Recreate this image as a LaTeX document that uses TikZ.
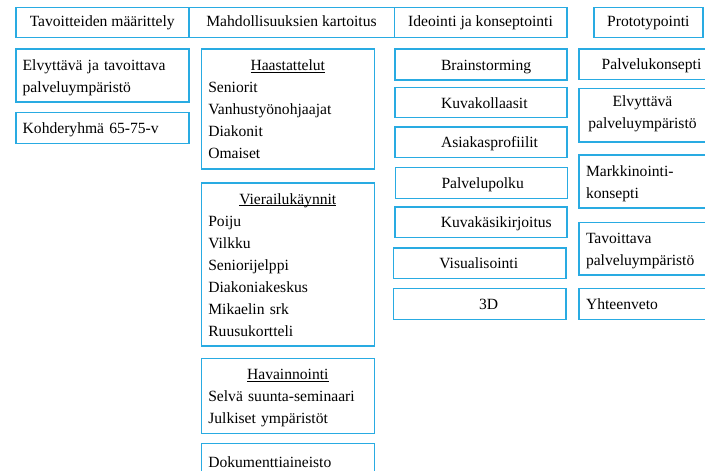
\documentclass[tikz,border=0pt]{standalone}
\usepackage{fontspec}
\setmainfont{Liberation Serif}

\tikzset{every picture/.style={line width=1.6pt}}
\newcommand{\topstrut}{\rule{0pt}{18pt}}
\newcommand{\undertext}[1]{\underline{\smash{#1}}}
\tikzset{
  box/.style={draw={rgb, 255:red, 41; green, 171; blue, 226 }, rectangle, inner xsep=7pt, inner ysep=0pt,
    font=\fontsize{15.6}{22}\selectfont, execute at end node=\strut},
  headbox/.style={box, align=center, execute at begin node=\strut},
  centerbox/.style={box, align=center, execute at begin node=\topstrut},
  listbox/.style={box, align=left, execute at begin node=\topstrut},
  ideabox/.style={listbox, inner xsep=0pt, execute at begin node={\hspace*{#1}}},
  ideabox/.default=46pt
}

\begin{document}
\begin{tikzpicture}[x=1pt,y=1pt,yscale=-1]
  \useasboundingbox (0,0) rectangle (705,471); %same size as the reference

  % phases
  \node [headbox, minimum width=173pt, minimum height=30.2pt] (goals) at (102.2,22.4) {Tavoitteiden määrittely};
  \node [headbox, minimum width=205.6pt, minimum height=30.2pt] (options) at (291.5,22.4) {Mahdollisuuksien kartoitus};
  \node [headbox, minimum width=172.4pt, minimum height=30.2pt] (ideation) at (480.5,22.4) {Ideointi ja konseptointi};
  \node [headbox, minimum width=108.7pt, minimum height=30.2pt] (proto) at (648.35,22.4) {Prototypointi};

  % goals
  \node [listbox, text width=159pt, minimum width=173pt, minimum height=53pt] (goalenv) at (102.2,75.5) {Elvyttävä ja tavoittava\\palveluympäristö};
  \node [listbox, text width=159pt, minimum width=173pt, minimum height=31pt] (goalgroup) at (102.2,127.8) {Kohderyhmä 65-75-v};

  % options
  \node [listbox, text width=159pt, minimum width=173pt, minimum height=119.7pt] (interviews) at (287.8,108.85)
    {\makebox[\hsize]{\undertext{Haastattelut}}\\Seniorit\\Vanhustyönohjaajat\\Diakonit\\Omaiset};
  \node [listbox, text width=159pt, minimum width=173pt, minimum height=163.3pt] (visits) at (287.8,264.35)
    {\makebox[\hsize]{\undertext{Vierailukäynnit}}\\Poiju\\Vilkku\\Seniorijelppi\\Diakoniakeskus\\Mikaelin srk\\Ruusukortteli};
  \node [listbox, text width=159pt, minimum width=173pt, minimum height=75pt] (observation) at (287.8,395.8)
    {\makebox[\hsize]{\undertext{Havainnointi}}\\Selvä suunta-seminaari\\Julkiset ympäristöt};
  \node [listbox, text width=159pt, minimum width=173pt, minimum height=36pt] (documents) at (287.8,461.3) {Dokumenttiaineisto};

  % ideation
  \node [ideabox, text width=172pt, minimum width=172pt, minimum height=31pt] (brainstorm) at (481,64.5) {Brainstorming};
  \node [ideabox, text width=172pt, minimum width=172pt, minimum height=30pt] (collage) at (481,102.3) {Kuvakollaasit};
  \node [ideabox, text width=172pt, minimum width=172pt, minimum height=30.3pt] (profiles) at (481,142.2) {Asiakasprofiilit};
  \node [ideabox, text width=172pt, minimum width=172pt, minimum height=31pt] (path) at (481.5,182.8) {Palvelupolku};
  \node [ideabox, text width=172pt, minimum width=172pt, minimum height=30.6pt] (storyboard) at (480.8,222) {Kuvakäsikirjoitus};
  \node [ideabox, text width=172.7pt, minimum width=172.7pt, minimum height=30.6pt] (visual) at (479.7,263) {Visualisointi};
  \node [ideabox=85.7pt, text width=172.7pt, minimum width=172.7pt, minimum height=31pt] (model) at (479.7,303.8) {3D};

  % prototyping
  \node [ideabox=22.7pt, text width=127pt, minimum width=127pt, minimum height=30.3pt] (concept) at (642.5,64.15) {Palvelukonsepti};
  \node [centerbox, minimum width=127pt, minimum height=53.4pt] (protoenv) at (642.5,115) {Elvyttävä\\palveluympäristö};
  \node [listbox, text width=113pt, minimum width=127pt, minimum height=52.7pt] (marketing) at (642.5,181.35) {Markkinointi-\\konsepti};
  \node [listbox, text width=113pt, minimum width=127pt, minimum height=52.7pt] (reach) at (642.5,248.65) {Tavoittava\\palveluympäristö};
  \node [listbox, text width=113pt, minimum width=127pt, minimum height=31pt] (summary) at (642.5,303.8) {Yhteenveto};

\end{tikzpicture}
\end{document}
